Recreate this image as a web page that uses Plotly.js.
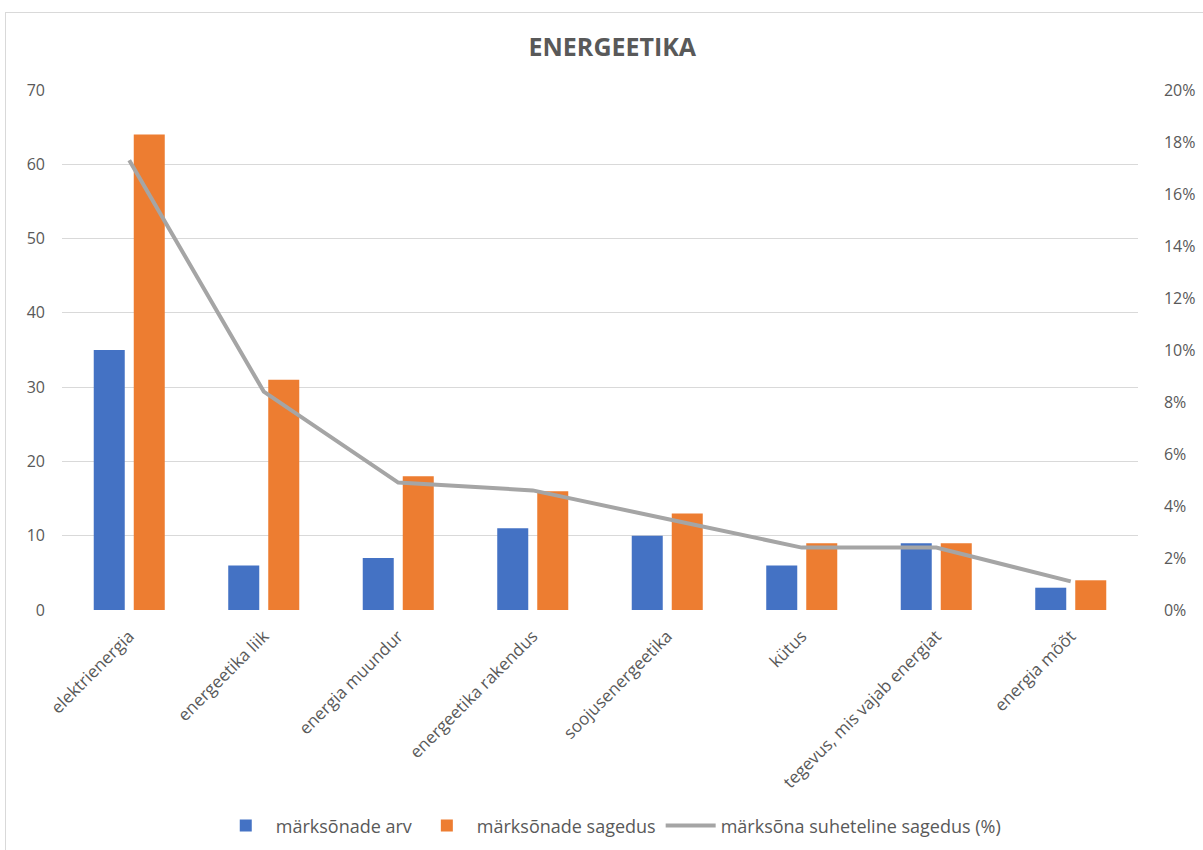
<!DOCTYPE html>
<html>
<head>
<meta charset="utf-8">
<script src="https://cdn.plot.ly/plotly-3.0.1.min.js"></script>
<style>
  html, body { margin: 0; padding: 0; background: #ffffff; overflow: hidden; }
  #frame { position: absolute; left: 5px; top: 12px; width: 1400px; height: 1000px; border: 1px solid #d9d9d9; box-sizing: border-box; pointer-events: none; }
  #chart { position: absolute; left: 0; top: 0; width: 1203px; height: 850px; }
</style>
</head>
<body>
<div id="chart"></div>
<div id="frame"></div>
<script>
const categories = ["elektrienergia", "energeetika liik", "energia muundur", "energeetika rakendus", "soojusenergeetika", "kütus", "tegevus, mis vajab energiat", "energia mõõt"];
const markArv = [35, 6, 7, 11, 10, 6, 9, 3];
const markSagedus = [64, 31, 18, 16, 13, 9, 9, 4];
const suhtelineSagedus = [17.3, 8.4, 4.9, 4.6, 3.5, 2.4, 2.4, 1.1];
const leftTicks = [0, 10, 20, 30, 40, 50, 60, 70];
const rightTicks = [0, 2, 4, 6, 8, 10, 12, 14, 16, 18, 20];
const rightTickLabels = ["0%", "2%", "4%", "6%", "8%", "10%", "12%", "14%", "16%", "18%", "20%"];

const fontFam = "Open Sans, Noto Sans, Liberation Sans, sans-serif";
const textCol = "#595959";
const pad = "\u00a0\u00a0\u00a0\u00a0\u00a0\u00a0";

const traces = [
  { type: "bar", name: "märksõnade arv", x: categories, y: markArv,
    marker: { color: "#4472c4" }, hoverinfo: "x+y" },
  { type: "bar", name: "märksõnade sagedus", x: categories, y: markSagedus,
    marker: { color: "#ed7d31" }, hoverinfo: "x+y" },
  { type: "scatter", mode: "lines", name: "märksõna suheteline sagedus (%)", x: categories, y: suhtelineSagedus,
    yaxis: "y2", line: { color: "#a5a5a5", width: 4 } }
];

const layout = {
  width: 1203, height: 850,
  paper_bgcolor: "rgba(0,0,0,0)", plot_bgcolor: "#ffffff",
  margin: { l: 62, r: 65, t: 90, b: 240, autoexpand: false },
  font: { family: fontFam, color: textCol, size: 15 },
  title: { text: "<b>ENERGEETIKA</b>", x: 0.509, xanchor: "center", y: 0.945, yanchor: "middle",
           font: { family: fontFam, size: 25, color: textCol } },
  barmode: "group", bargap: 0.405, bargroupgap: 0.225,
  xaxis: { type: "category", tickangle: -45, showgrid: false, showline: false, ticks: "", automargin: false,
           ticklabelstandoff: 12,
           tickfont: { family: fontFam, size: 17, color: textCol } },
  yaxis: { range: [0, 70], tickmode: "array", tickvals: leftTicks, gridcolor: "#d9d9d9", gridwidth: 1, zeroline: false,
           showline: false, ticks: "", automargin: false, ticklabelstandoff: 16, tickfont: { size: 16, color: textCol } },
  yaxis2: { range: [0, 20], tickmode: "array", tickvals: rightTicks, ticktext: rightTickLabels.map(t => pad + t),
            overlaying: "y", side: "right",
            showgrid: false, zeroline: false, showline: false, ticks: "",
            automargin: false, tickfont: { size: 16, color: textCol } },
  legend: { orientation: "h", x: 0.51, xanchor: "center", y: -0.415, yanchor: "middle",
            font: { size: 18, color: textCol }, traceorder: "normal", itemwidth: 50 },
  showlegend: true
};

Plotly.newPlot("chart", traces, layout, { displayModeBar: false, staticPlot: true });
</script>
</body>
</html>
